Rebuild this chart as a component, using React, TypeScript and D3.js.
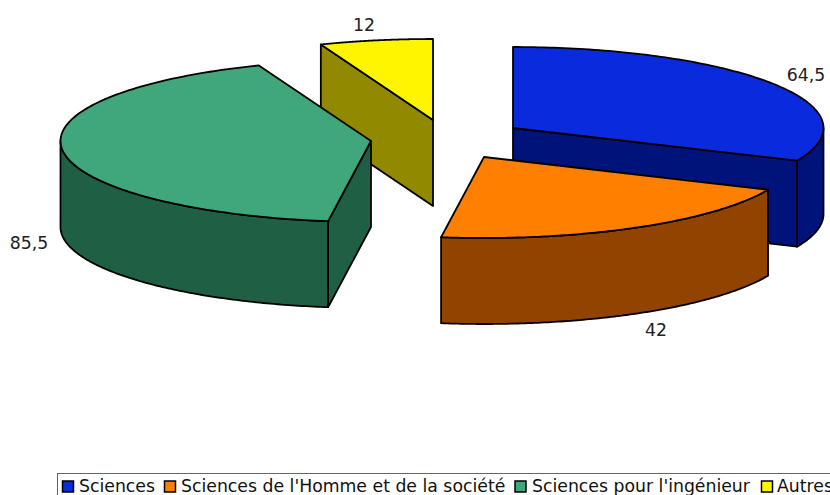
import React from "react";
import * as d3 from "d3";

const categories = ["Sciences", "Sciences de l'Homme et de la société", "Sciences pour l'ingénieur", "Autres"];
const values = [64.5, 42, 85.5, 12];
const valueLabels = ["64,5", "42", "85,5", "12"];
const topColors = ["#0a2bdd", "#ff7f00", "#3fa779", "#fff500"];
const sideColors = ["#00137a", "#924300", "#1f6044", "#918a00"];
const apexX = [513, 484, 371, 433];
const apexY = [128, 157, 141, 120];
const labelX = [806, 656, 29, 364];
const labelY = [81, 336, 249, 31];
const legendSwatchX = [62.5, 164.5, 515, 761.5];
const legendTextX = [79, 181, 532, 777];

const RX = 310.5, RY = 81, DEPTH = 86;

const line = d3.line<[number, number]>();

export default function App() {
  const arcs = d3.pie<number>().sort(null)(values);
  const pt = (i: number, a: number, dy = 0): [number, number] => [
    apexX[i] + RX * Math.sin(a),
    apexY[i] - RY * Math.cos(a) + dy,
  ];
  const rim = (i: number, a0: number, a1: number, dy = 0): [number, number][] =>
    d3.range(0, 121).map((k) => pt(i, a0 + ((a1 - a0) * k) / 120, dy));
  const apex = (i: number, dy = 0): [number, number] => [apexX[i], apexY[i] + dy];
  const S = { stroke: "#000", strokeWidth: 1.8, strokeLinejoin: "round" as const };
  const half = Math.PI / 2;

  const slice = (i: number) => {
    const { startAngle: a0, endAngle: a1 } = arcs[i];
    const parts: React.ReactNode[] = [];
    // visible outer wall: only the front half of the ellipse
    const f0 = Math.max(a0, half), f1 = Math.min(a1, half * 3);
    if (f1 > f0) {
      const poly = [...rim(i, f0, f1), ...rim(i, f1, f0, DEPTH)];
      parts.push(<path key="o" d={line(poly) + "Z"} fill={sideColors[i]} {...S} />);
    }
    // visible cut walls
    const cutAngle = i === 0 ? a1 : i === 1 ? null : a0;
    if (cutAngle !== null) {
      const poly = [apex(i), pt(i, cutAngle), pt(i, cutAngle, DEPTH), apex(i, DEPTH)];
      parts.push(<path key="c" d={line(poly) + "Z"} fill={sideColors[i]} {...S} />);
    }
    const top = [apex(i), ...rim(i, a0, a1)];
    parts.push(<path key="t" d={line(top) + "Z"} fill={topColors[i]} {...S} />);
    return <g key={i}>{parts}</g>;
  };

  const font = "'DejaVu Sans', Verdana, sans-serif";
  return (
    <svg width={830} height={495} style={{ position: "absolute", left: 0, top: 0, background: "#fff" }}>
      {[3, 0, 2, 1].map(slice)}
      {valueLabels.map((t, i) => (
        <text key={t} x={labelX[i]} y={labelY[i]} textAnchor="middle" fontFamily={font} fontSize={17.3} fill="#222">{t}</text>
      ))}
      <rect x={57.5} y={473.5} width={790} height={40} fill="#fff" stroke="#666" strokeWidth={1} />
      {categories.map((c, i) => (
        <g key={c}>
          <rect x={legendSwatchX[i]} y={481} width={11} height={11} fill={topColors[i]} stroke="#000" strokeWidth={1.5} />
          <text x={legendTextX[i]} y={492} fontFamily={font} fontSize={17.3} fill="#111">{c}</text>
        </g>
      ))}
    </svg>
  );
}
